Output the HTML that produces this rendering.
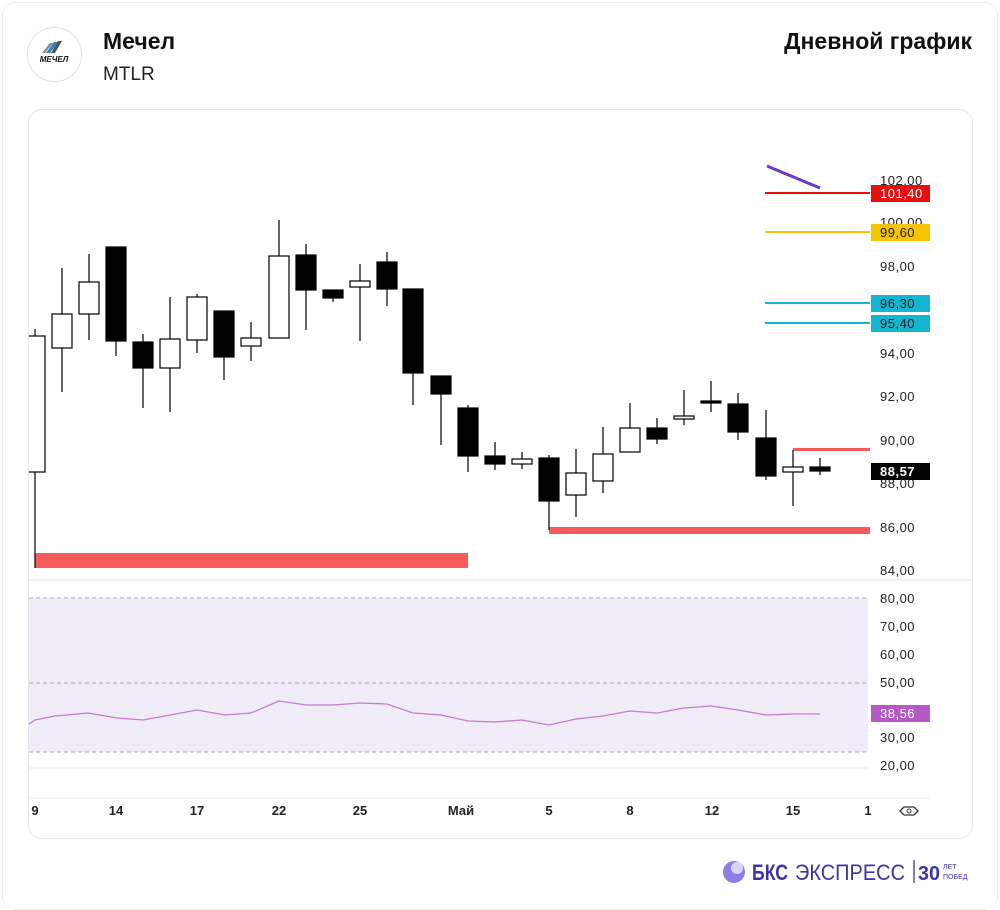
<!DOCTYPE html>
<html><head><meta charset="utf-8"><style>
html,body{margin:0;padding:0;background:#fff;}
body{width:1000px;height:910px;position:relative;overflow:hidden;font-family:"Liberation Sans","DejaVu Sans",sans-serif;}
.frame{position:absolute;left:2px;top:2px;width:994px;height:906px;border:1px solid #eee;border-radius:14px;}
.card{position:absolute;left:28px;top:109px;width:943px;height:728px;border:1px solid #e6e6e6;border-radius:14px;}
.logo{position:absolute;left:27px;top:27px;width:53px;height:53px;border:1px solid #e2e2e2;border-radius:50%;background:#fff;}
.t1{position:absolute;left:103px;top:28px;font-size:23px;font-weight:bold;color:#111;}
.t2{position:absolute;left:103px;top:64px;font-size:19px;color:#222;}
.t3{position:absolute;right:28px;top:28px;font-size:23px;font-weight:bold;color:#111;}
</style></head><body>
<div class="frame"></div>
<div class="logo"><svg width="53" height="53"><path d="M14 25 L22 15 L25 15 L17 25Z" fill="#888"/><path d="M18 25 L26 14 L30 14 L22 25Z" fill="#1e88d8"/><path d="M23 25 L30 13 L34 13 L27 25Z" fill="#555"/><text x="26" y="34" font-size="8" font-weight="bold" font-style="italic" text-anchor="middle" fill="#111">МЕЧЕЛ</text></svg></div>
<div class="t1">Мечел</div>
<div class="t2">MTLR</div>
<div class="t3">Дневной график</div>
<div class="card"></div>
<svg style="position:absolute;left:0;top:0" width="1000" height="910" font-family="Liberation Sans, DejaVu Sans, sans-serif">
<defs><clipPath id="cp"><rect x="29" y="110" width="942" height="700"/></clipPath></defs>
<line x1="29" y1="580" x2="971" y2="580" stroke="#e4e4e4"/>
<line x1="29" y1="768" x2="868" y2="768" stroke="#e8e8e8"/>
<line x1="29" y1="798" x2="930" y2="798" stroke="#eee"/>
<rect x="29" y="598" width="839" height="154" fill="#f1edf8"/>
<g stroke="#aaa" stroke-dasharray="4,3"><line x1="29" y1="598" x2="868" y2="598"/><line x1="29" y1="683" x2="868" y2="683"/><line x1="29" y1="752" x2="868" y2="752"/></g>
<polyline fill="none" stroke="#c77bd0" stroke-width="1.3" points="29,724 35,720 55,716 88,713 117,718 143,720 170,715 197,710 225,715 251,713 279,701 306,705 333,705 360,703 387,704 413,713 441,715 468,721 495,722 522,720 549,725 576,719 603,716 630,711 657,713 684,708 711,706 738,710 766,715 793,714 820,714"/>
<rect x="35" y="553" width="433" height="15" fill="#f95a5e"/>
<rect x="549" y="527" width="321" height="7" fill="#f95a5e"/>
<rect x="793" y="448" width="77" height="3" fill="#f95a5e"/>
<line x1="765" y1="193" x2="870" y2="193" stroke="#e8100f" stroke-width="2"/>
<line x1="765" y1="232" x2="870" y2="232" stroke="#f5c400" stroke-width="2"/>
<line x1="765" y1="303" x2="870" y2="303" stroke="#14b5cf" stroke-width="2"/>
<line x1="765" y1="323" x2="870" y2="323" stroke="#14b5cf" stroke-width="2"/>
<line x1="767" y1="166" x2="820" y2="188" stroke="#6a3cc2" stroke-width="3"/>
<g stroke="#000" stroke-width="1.2" clip-path="url(#cp)">
<line x1="35" y1="329" x2="35" y2="568"/><rect x="25" y="336" width="20" height="136" fill="#fff"/>
<line x1="62" y1="268" x2="62" y2="392"/><rect x="52" y="314" width="20" height="34" fill="#fff"/>
<line x1="89" y1="254" x2="89" y2="340"/><rect x="79" y="282" width="20" height="32" fill="#fff"/>
<line x1="116" y1="247" x2="116" y2="356"/><rect x="106" y="247" width="20" height="94" fill="#000"/>
<line x1="143" y1="334" x2="143" y2="408"/><rect x="133" y="342" width="20" height="26" fill="#000"/>
<line x1="170" y1="297" x2="170" y2="412"/><rect x="160" y="339" width="20" height="29" fill="#fff"/>
<line x1="197" y1="294" x2="197" y2="353"/><rect x="187" y="297" width="20" height="43" fill="#fff"/>
<line x1="224" y1="311" x2="224" y2="380"/><rect x="214" y="311" width="20" height="46" fill="#000"/>
<line x1="251" y1="322" x2="251" y2="361"/><rect x="241" y="338" width="20" height="8" fill="#fff"/>
<line x1="279" y1="220" x2="279" y2="338"/><rect x="269" y="256" width="20" height="82" fill="#fff"/>
<line x1="306" y1="244" x2="306" y2="330"/><rect x="296" y="255" width="20" height="35" fill="#000"/>
<line x1="333" y1="290" x2="333" y2="302"/><rect x="323" y="290" width="20" height="8" fill="#000"/>
<line x1="360" y1="264" x2="360" y2="341"/><rect x="350" y="281" width="20" height="6" fill="#fff"/>
<line x1="387" y1="252" x2="387" y2="306"/><rect x="377" y="262" width="20" height="27" fill="#000"/>
<line x1="413" y1="289" x2="413" y2="405"/><rect x="403" y="289" width="20" height="84" fill="#000"/>
<line x1="441" y1="376" x2="441" y2="445"/><rect x="431" y="376" width="20" height="18" fill="#000"/>
<line x1="468" y1="405" x2="468" y2="472"/><rect x="458" y="408" width="20" height="48" fill="#000"/>
<line x1="495" y1="442" x2="495" y2="470"/><rect x="485" y="456" width="20" height="8" fill="#000"/>
<line x1="522" y1="452" x2="522" y2="469"/><rect x="512" y="459" width="20" height="5" fill="#fff"/>
<line x1="549" y1="455" x2="549" y2="530"/><rect x="539" y="458" width="20" height="43" fill="#000"/>
<line x1="576" y1="449" x2="576" y2="517"/><rect x="566" y="473" width="20" height="22" fill="#fff"/>
<line x1="603" y1="427" x2="603" y2="493"/><rect x="593" y="454" width="20" height="27" fill="#fff"/>
<line x1="630" y1="403" x2="630" y2="452"/><rect x="620" y="428" width="20" height="24" fill="#fff"/>
<line x1="657" y1="418" x2="657" y2="444"/><rect x="647" y="428" width="20" height="11" fill="#000"/>
<line x1="684" y1="390" x2="684" y2="425"/><rect x="674" y="416" width="20" height="3" fill="#fff"/>
<line x1="711" y1="381" x2="711" y2="412"/><rect x="701" y="401" width="20" height="2" fill="#000"/>
<line x1="738" y1="393" x2="738" y2="440"/><rect x="728" y="404" width="20" height="28" fill="#000"/>
<line x1="766" y1="410" x2="766" y2="480"/><rect x="756" y="438" width="20" height="38" fill="#000"/>
<line x1="793" y1="450" x2="793" y2="506"/><rect x="783" y="467" width="20" height="5" fill="#fff"/>
<line x1="820" y1="458" x2="820" y2="475"/><rect x="810" y="467" width="20" height="4" fill="#000"/>
</g>
<g font-size="13" fill="#222" letter-spacing="0.5">
<text x="880" y="185">102,00</text><text x="880" y="227">100,00</text><text x="880" y="271">98,00</text>
<text x="880" y="358">94,00</text><text x="880" y="401">92,00</text><text x="880" y="445">90,00</text>
<text x="880" y="488">88,00</text><text x="880" y="532">86,00</text><text x="880" y="575">84,00</text>
<text x="880" y="603">80,00</text><text x="880" y="631">70,00</text><text x="880" y="659">60,00</text>
<text x="880" y="687">50,00</text><text x="880" y="742">30,00</text><text x="880" y="770">20,00</text>
</g>
<rect x="871" y="185" width="59" height="17" fill="#e8100f"/><text x="880" y="198" font-size="13" fill="#fff" letter-spacing="0.5">101,40</text>
<rect x="871" y="224" width="59" height="17" fill="#f5c400"/><text x="880" y="237" font-size="13" fill="#222" letter-spacing="0.5">99,60</text>
<rect x="871" y="295" width="59" height="17" fill="#14b5cf"/><text x="880" y="308" font-size="13" fill="#222" letter-spacing="0.5">96,30</text>
<rect x="871" y="315" width="59" height="17" fill="#14b5cf"/><text x="880" y="328" font-size="13" fill="#222" letter-spacing="0.5">95,40</text>
<rect x="871" y="463" width="59" height="17" fill="#000"/><text x="880" y="476" font-size="13" font-weight="bold" fill="#fff" letter-spacing="0.5">88,57</text>
<rect x="871" y="705" width="59" height="17" fill="#b55ac4"/><text x="880" y="718" font-size="13" fill="#fff" letter-spacing="0.5">38,56</text>
<g font-size="13" font-weight="bold" fill="#222" text-anchor="middle">
<text x="35" y="815">9</text><text x="116" y="815">14</text><text x="197" y="815">17</text><text x="279" y="815">22</text>
<text x="360" y="815">25</text><text x="461" y="815">Май</text><text x="549" y="815">5</text><text x="630" y="815">8</text>
<text x="712" y="815">12</text><text x="793" y="815">15</text><text x="868" y="815">1</text>
</g>
<path d="M900 811 L904 807 L914 807 L918 811 L914 815 L904 815Z" fill="none" stroke="#333" stroke-width="1.3"/><circle cx="909" cy="811" r="2" fill="none" stroke="#333"/>
<circle cx="734" cy="872" r="11" fill="#8a7fe8"/><circle cx="737" cy="868" r="6" fill="#d9d5fb"/>
<text x="752" y="880" font-size="22" font-weight="bold" fill="#3b35a8" textLength="36" lengthAdjust="spacingAndGlyphs">БКС</text>
<text x="795" y="880" font-size="22" fill="#3b35a8" textLength="110" lengthAdjust="spacingAndGlyphs">ЭКСПРЕСС</text>
<line x1="914" y1="860" x2="914" y2="883" stroke="#3b35a8" stroke-width="1.3"/>
<text x="918" y="880" font-size="20" font-weight="bold" fill="#3b35a8" textLength="22" lengthAdjust="spacingAndGlyphs">30</text>
<text x="943" y="869" font-size="7" fill="#3b35a8">ЛЕТ</text><text x="943" y="879" font-size="7" fill="#3b35a8">ПОБЕД</text>
</svg>
</body></html>
